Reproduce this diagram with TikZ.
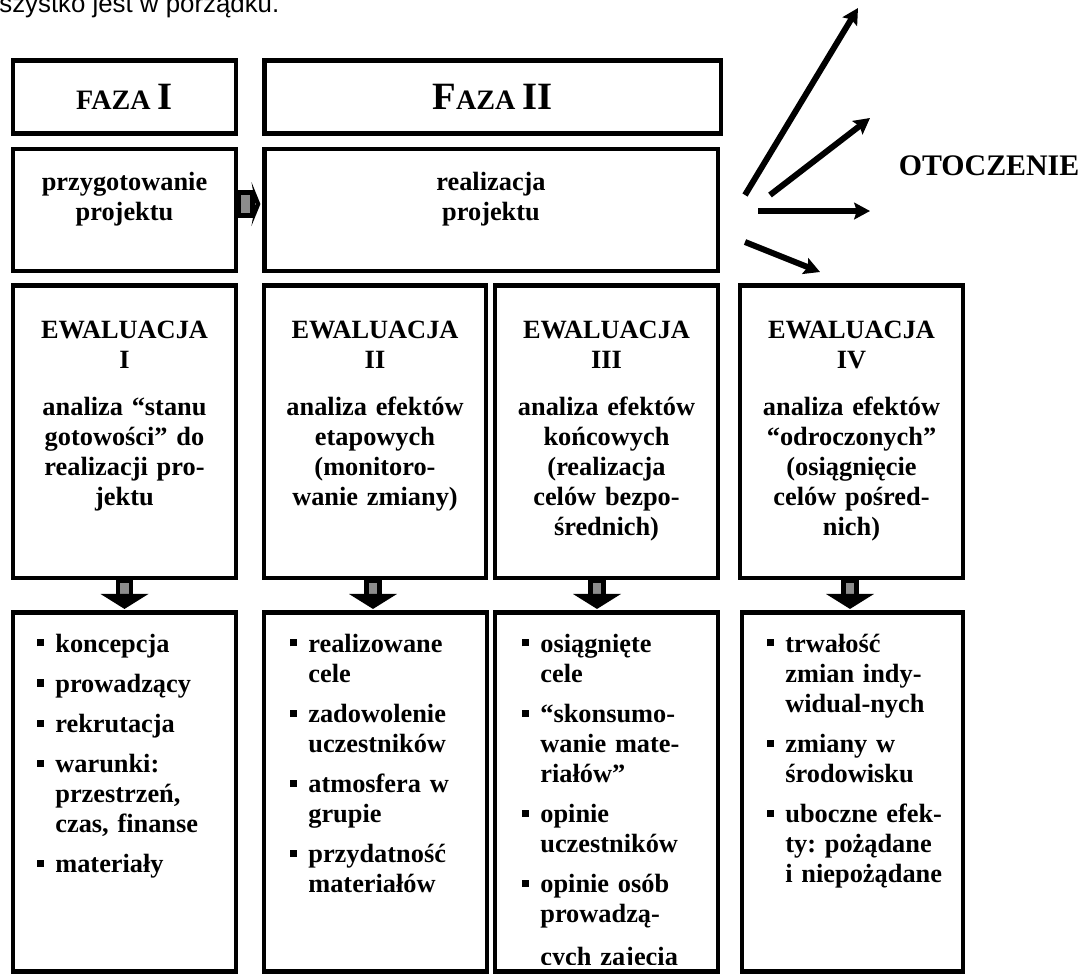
\documentclass[tikz,border=0pt]{standalone}
\usepackage{fontspec}
\setmainfont{Liberation Serif}
\newfontfamily\arialfont{Liberation Sans}
\usetikzlibrary{arrows.meta}

% punkt listy z wiszacym wcieciem
\newcommand{\pkt}{\par\hangindent=0.36cm\hangafter=1\noindent\makebox[0.36cm][l]{\rule[3.4pt]{3.6pt}{4pt}}\strut}

\tikzset{
	ramka/.style={draw, line width=2.8pt, inner sep=0pt},
	opis/.style={inner sep=0pt, align=center, text width=4.2cm, font=\bfseries\frenchspacing\fontsize{15pt}{17.1pt}\selectfont},
	lista/.style={inner sep=0pt, align=left, text width=3.9cm, anchor=north west, font=\bfseries\frenchspacing\fontsize{15pt}{17.1pt}\selectfont, execute at begin node={\setlength{\parskip}{5.7pt}}},
	trzon/.style={draw, line width=2.8pt, fill=black!45},
	grot/.style={fill=black},
	strz/.style={line width=3.4pt, -{Stealth[length=9pt,width=9.5pt,inset=1.5pt]}}
}

\begin{document}
\begin{tikzpicture}[x=0.02cm, y=-0.02cm]
	\useasboundingbox (0,0) rectangle (1087,978);
	
	\node[anchor=base west, inner sep=0pt, font=\arialfont\fontsize{14.7pt}{17pt}\selectfont] (naglowek) at (-1,12) {szystko jest w porządku.};
	
	% fazy
	\node[ramka, minimum width=4.46cm, minimum height=1.45cm, font=\bfseries] (faza1) at (124.5,97) {{\fontsize{16pt}{18pt}\selectfont FAZA }{\fontsize{22pt}{24pt}\selectfont I}};
	\node[ramka, minimum width=9.14cm, minimum height=1.45cm, font=\bfseries] (faza2) at (492.5,97) {{\fontsize{22pt}{24pt}\selectfont F}{\fontsize{16pt}{18pt}\selectfont AZA }{\fontsize{22pt}{24pt}\selectfont II}};
	
	\node[ramka, minimum width=4.46cm, minimum height=2.44cm] (przyg) at (124.5,210) {};
	\node[ramka, minimum width=9.08cm, minimum height=2.44cm] (real) at (491,210) {};
	\node[opis] (przygt) at (124.5,199) {przygotowanie\\projektu};
	\node[opis] (realt) at (491,199) {realizacja\\projektu};
	
	% ewaluacje
	\node[ramka, minimum width=4.46cm, minimum height=5.85cm] (e1) at (124.5,431.75) {};
	\node[ramka, minimum width=4.44cm, minimum height=5.85cm] (e2) at (375,431.75) {};
	\node[ramka, minimum width=4.46cm, minimum height=5.85cm] (e3) at (606.5,431.75) {};
	\node[ramka, minimum width=4.46cm, minimum height=5.85cm] (e4) at (851.5,431.75) {};
	
	\node[opis, anchor=north] (e1t) at (124.5,317) {\strut EWALUACJA\\I\\[9.7pt]analiza “stanu\\gotowości” do\\realizacji pro-\\jektu};
	\node[opis, anchor=north] (e2t) at (375,317) {\strut EWALUACJA\\II\\[9.7pt]analiza efektów\\etapowych\\(monitoro-\\wanie zmiany)};
	\node[opis, anchor=north] (e3t) at (606.5,317) {\strut EWALUACJA\\III\\[9.7pt]analiza efektów\\końcowych\\(realizacja\\celów bezpo-\\średnich)};
	\node[opis, anchor=north] (e4t) at (851.5,317) {\strut EWALUACJA\\IV\\[9.7pt]analiza efektów\\“odroczonych”\\(osiągnięcie\\celów pośred-\\nich)};
	
	% wskazniki
	\node[ramka, minimum width=4.46cm, minimum height=7.19cm] (p1) at (124.5,791.75) {};
	\node[ramka, minimum width=4.46cm, minimum height=7.19cm] (p2) at (375.5,791.75) {};
	\node[ramka, minimum width=4.46cm, minimum height=7.19cm] (p3) at (606.5,791.75) {};
	\node[ramka, minimum width=4.42cm, minimum height=7.19cm] (p4) at (852.5,791.75) {};
	
	\node[lista] (l1) at (37,612) {\pkt koncepcja \pkt prowadzący \pkt rekrutacja \pkt warunki:\newline przestrzeń,\newline czas, finanse \pkt materiały\par};
	\node[lista] (l2) at (290,612) {\pkt realizowane\newline cele \pkt zadowolenie\newline uczestników \pkt atmosfera w\newline grupie \pkt przydatność\newline materiałów\par};
	\begin{scope}
		\clip (495,612) rectangle (718,964);
		\node[lista] (l3) at (522,612) {\pkt osiągnięte\newline cele \pkt “skonsumo-\newline wanie mate-\newline riałów” \pkt opinie\newline uczestników \pkt opinie osób\newline prowadzą-\newline\rule{0pt}{20pt}cych zajęcia\par};
	\end{scope}
	\node[lista] (l4) at (767,612) {\pkt trwałość\newline zmian indy-\newline widual-nych \pkt zmiany w\newline środowisku \pkt uboczne efek-\newline ty: pożądane\newline i niepożądane\par};
	
	% strzalki blokowe
	\path (przyg.east) ++(0,-6) coordinate (r0);
	\draw[trzon] (r0) ++(0,-11.5) rectangle ++(14,23);
	\fill[grot] (r0) ++(13,-22) -- ++(9,22) -- ++(-9,22) -- ++(4,-22) -- cycle;
	
	\foreach \n/\dx in {e1/0, e2/-2, e3/-9.5, e4/-1.5}{
		\path (\n.south) ++(\dx,0) coordinate (g\n);
		\draw[trzon] (g\n) ++(-6.5,0) rectangle ++(13,16);
		\fill[grot] (g\n) ++(-24,13.5) -- ++(48,0) -- ++(-24,15) -- cycle;
	}
	
	% otoczenie
	\node[anchor=base, inner sep=0pt, font=\bfseries\fontsize{17pt}{19pt}\selectfont] (otoczenie) at (989,175) {OTOCZENIE};
	
	\coordinate (a1s) at (745,195);
	\coordinate (a1e) at (858,8);
	\coordinate (a2s) at (770,195);
	\coordinate (a2e) at (870,118);
	\coordinate (a3s) at (758,211);
	\coordinate (a3e) at (870,211);
	\coordinate (a4s) at (745,242);
	\coordinate (a4e) at (820,272);
	\draw[strz] (a1s) -- (a1e);
	\draw[strz] (a2s) -- (a2e);
	\draw[strz] (a3s) -- (a3e);
	\draw[strz] (a4s) -- (a4e);
\end{tikzpicture}
\end{document}
